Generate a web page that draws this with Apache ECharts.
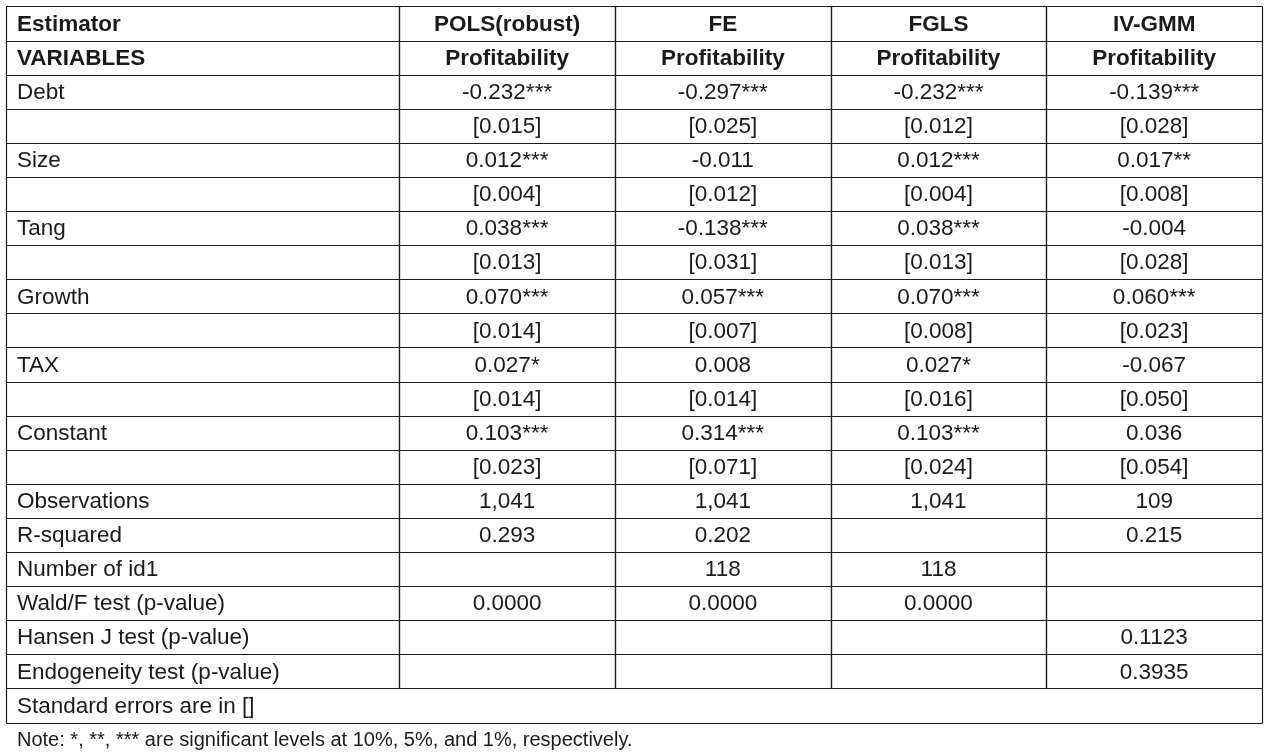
<!DOCTYPE html>
<html><head><meta charset="utf-8">
<script src="https://cdn.jsdelivr.net/npm/echarts@6/dist/echarts.min.js"></script>
<style>html,body{margin:0;padding:0;background:#fff}#c{width:1268px;height:755px}</style>
</head><body><div id="c"></div>
<script>
// ---- data ----
var estimators = ['POLS(robust)', 'FE', 'FGLS', 'IV-GMM'];
var depVar = ['Profitability', 'Profitability', 'Profitability', 'Profitability'];
var rowLabels = ['Debt', '', 'Size', '', 'Tang', '', 'Growth', '', 'TAX', '', 'Constant', '',
  'Observations', 'R-squared', 'Number of id1', 'Wald/F test (p-value)', 'Hansen J test (p-value)', 'Endogeneity test (p-value)'];
var polsValues = ['-0.232***', '[0.015]', '0.012***', '[0.004]', '0.038***', '[0.013]', '0.070***', '[0.014]', '0.027*', '[0.014]', '0.103***', '[0.023]', '1,041', '0.293', '', '0.0000', '', ''];
var feValues = ['-0.297***', '[0.025]', '-0.011', '[0.012]', '-0.138***', '[0.031]', '0.057***', '[0.007]', '0.008', '[0.014]', '0.314***', '[0.071]', '1,041', '0.202', '118', '0.0000', '', ''];
var fglsValues = ['-0.232***', '[0.012]', '0.012***', '[0.004]', '0.038***', '[0.013]', '0.070***', '[0.008]', '0.027*', '[0.016]', '0.103***', '[0.024]', '1,041', '', '118', '0.0000', '', ''];
var ivgmmValues = ['-0.139***', '[0.028]', '0.017**', '[0.008]', '-0.004', '[0.028]', '0.060***', '[0.023]', '-0.067', '[0.050]', '0.036', '[0.054]', '109', '0.215', '', '', '0.1123', '0.3935'];
var headerLeft = ['Estimator', 'VARIABLES'];
var footerText = 'Standard errors are in []';
var noteText = 'Note: *, **, *** are significant levels at 10%, 5%, and 1%, respectively.';

// ---- build cells ----
var colValues = [polsValues, feValues, fglsValues, ivgmmValues];
var rowNames = [];
var cells = []; // [col, rowIndex, text, bold, span]
var r = 0;
rowNames.push('r0');
cells.push([0, r, headerLeft[0], 1, 0]);
estimators.forEach(function (e, i) { cells.push([i + 1, r, e, 1, 0]); });
r++; rowNames.push('r1');
cells.push([0, r, headerLeft[1], 1, 0]);
depVar.forEach(function (e, i) { cells.push([i + 1, r, e, 1, 0]); });
rowLabels.forEach(function (lab, k) {
  r++; rowNames.push('r' + r);
  cells.push([0, r, lab, 0, 0]);
  colValues.forEach(function (vals, i) { cells.push([i + 1, r, vals[k], 0, 0]); });
});
r++; rowNames.push('r' + r);
cells.push([0, r, footerText, 0, 1]);

// layout (column edge fractions of table width)
var edges = [0, 393.3, 609, 824.7, 1040.4, 1256.1];
var total = edges[edges.length - 1];
var colEdges = edges.map(function (e) { return e / total * 100; });

var chart = echarts.init(document.getElementById('c'), null, { renderer: 'canvas' });
var fontFam = '"Liberation Sans", sans-serif';
chart.setOption({
  animation: false,
  grid: { left: 6, right: 6, top: 6.5, bottom: 32.5 },
  xAxis: { type: 'value', min: 0, max: 100, show: false },
  yAxis: { type: 'category', data: rowNames, inverse: true, show: false },
  graphic: [{
    type: 'text', left: 17, top: 730,
    style: { text: noteText, font: '20px ' + fontFam, fill: '#1a1a1a' }
  }],
  series: [{
    type: 'custom',
    data: cells,
    renderItem: function (params, api) {
      var col = api.value(0), row = api.value(1), span = api.value(4);
      var text = cells[params.dataIndex][2];
      var bold = api.value(3);
      var h = api.size([0, 1])[1];
      var c = api.coord([colEdges[col], row]);
      var x0 = c[0];
      var x1 = api.coord([span ? 100 : colEdges[col + 1], row])[0];
      var yTop = c[1] - h / 2, yBot = c[1] + h / 2;
      var L = function (v) { return Math.round(v) + 0.5; };
      var ls = { stroke: '#1a1a1a', lineWidth: 1.2 };
      var children = [
        { type: 'line', shape: { x1: L(x0), y1: L(yTop), x2: L(x1), y2: L(yTop) }, style: ls },
        { type: 'line', shape: { x1: L(x0), y1: L(yBot), x2: L(x1), y2: L(yBot) }, style: ls },
        { type: 'line', shape: { x1: L(x0), y1: L(yTop), x2: L(x0), y2: L(yBot) }, style: ls },
        { type: 'line', shape: { x1: L(x1), y1: L(yTop), x2: L(x1), y2: L(yBot) }, style: ls }
      ];
      var left = col === 0;
      children.push({
        type: 'text',
        style: {
          text: text,
          x: left ? x0 + 11 : (x0 + x1) / 2,
          y: c[1] + 1,
          align: left ? 'left' : 'center',
          verticalAlign: 'middle',
          font: (bold ? 'bold ' : '') + '22.5px ' + fontFam,
          fill: '#1a1a1a'
        }
      });
      return { type: 'group', children: children };
    }
  }]
});
</script></body></html>
